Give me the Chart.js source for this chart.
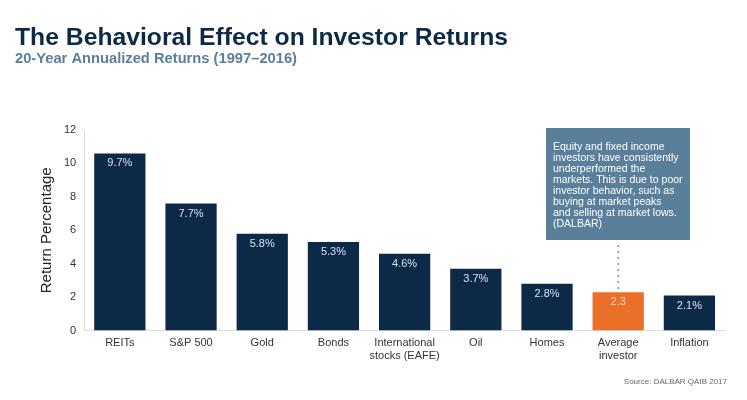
<!DOCTYPE html>
<html>
<head>
<meta charset="utf-8">
<script src="https://cdn.jsdelivr.net/npm/chart.js@4.4.1/dist/chart.umd.min.js"></script>
<style>
html,body{margin:0;padding:0;background:#fff;}
#wrap{position:relative;width:747px;height:400px;}
</style>
</head>
<body>
<div id="wrap"><canvas id="c" width="747" height="400"></canvas></div>
<script>
const categories = [["REITs"],["S&P 500"],["Gold"],["Bonds"],["International","stocks (EAFE)"],["Oil"],["Homes"],["Average","investor"],["Inflation"]];
const barValues = [10.6, 7.6, 5.8, 5.3, 4.6, 3.7, 2.8, 2.3, 2.1];
const valueLabels = ["9.7%","7.7%","5.8%","5.3%","4.6%","3.7%","2.8%","2.3","2.1%"];
const yTicks = [0,2,4,6,8,10,12];
const titleText = "The Behavioral Effect on Investor Returns";
const subtitleText = "20-Year Annualized Returns (1997\u20132016)";
const noteLines = ["Equity and fixed income","investors have consistently","underperformed the","markets. This is due to poor","investor behavior, such as","buying at market peaks","and selling at market lows.","(DALBAR)"];
const sourceText = "Source: DALBAR QAIB 2017";
const highlightIndex = 7;

const NAVY = "#0c2a48";
const ORANGE = "#ea7029";
const STEEL = "#5a7f9b";
const FONT = "'Liberation Sans', Arial, sans-serif";

const barColors = barValues.map((v,i)=> i===highlightIndex ? ORANGE : NAVY);

const decor = {
  id:'decor',
  afterDatasetsDraw(chart){
    const ctx = chart.ctx;
    const meta = chart.getDatasetMeta(0);
    ctx.save();
    // value labels
    ctx.font = "11px " + FONT;
    ctx.textAlign = 'center';
    ctx.textBaseline = 'middle';
    meta.data.forEach((bar,i)=>{
      ctx.fillStyle = i===highlightIndex ? '#f7d6be' : '#d4e2ee';
      ctx.fillText(valueLabels[i], bar.x, bar.y + 10);
    });
    // annotation box
    const hb = meta.data[highlightIndex];
    const boxL = 546, boxR = 690, boxT = 128, boxB = 240;
    ctx.fillStyle = STEEL;
    ctx.fillRect(boxL, boxT, boxR-boxL, boxB-boxT);
    ctx.fillStyle = '#ffffff';
    ctx.textAlign = 'left';
    ctx.font = "10.5px " + FONT;
    noteLines.forEach((t,i)=>{ ctx.fillText(t, 553, 147 + i*10.95); });
    // dotted connector
    ctx.fillStyle = '#8a8a8a';
    for (let yy = boxB + 6; yy < hb.y - 2; yy += 6) {
      ctx.beginPath(); ctx.arc(hb.x, yy, 1, 0, Math.PI*2); ctx.fill();
    }
    // titles
    ctx.textAlign = 'left';
    ctx.textBaseline = 'alphabetic';
    ctx.fillStyle = '#0c2a48';
    ctx.font = "bold 24px " + FONT;
    let w = ctx.measureText(titleText).width;
    ctx.save(); ctx.translate(15,45); ctx.scale(493/w,1); ctx.fillText(titleText,0,0); ctx.restore();
    ctx.fillStyle = STEEL;
    ctx.font = "bold 14.5px " + FONT;
    w = ctx.measureText(subtitleText).width;
    ctx.save(); ctx.translate(15,63); ctx.scale(282/w,1); ctx.fillText(subtitleText,0,0); ctx.restore();
    // source
    ctx.fillStyle = '#666';
    ctx.font = "8px " + FONT;
    ctx.textAlign = 'right';
    ctx.fillText(sourceText, 727, 384);
    ctx.restore();
  }
};

new Chart(document.getElementById('c'), {
  type:'bar',
  data:{
    labels: categories,
    datasets:[{ data: barValues, backgroundColor: barColors, categoryPercentage: 0.72, barPercentage: 1.0 }]
  },
  options:{
    responsive:false,
    animation:false,
    devicePixelRatio:1,
    layout:{ padding:{ left:38, right:22, top:130, bottom:31 } },
    plugins:{ legend:{display:false}, tooltip:{enabled:false}, title:{display:false} },
    scales:{
      x:{
        grid:{ display:false, drawTicks:false },
        border:{ color:'#dddddd' },
        ticks:{ color:'#333', font:{ size:11, family:FONT }, padding:6, maxRotation:0, autoSkip:false }
      },
      y:{
        min:0, max:12,
        afterBuildTicks(s){ s.ticks = yTicks.map(v=>({value:v})); },
        grid:{ display:false, drawTicks:false },
        border:{ color:'#dddddd' },
        ticks:{ color:'#333', font:{ size:11, family:FONT }, padding:8 },
        title:{ display:true, text:'Return Percentage', color:'#222', font:{ size:15, family:FONT }, padding:{top:0,bottom:0} }
      }
    }
  },
  plugins:[decor]
});
</script>
</body>
</html>
